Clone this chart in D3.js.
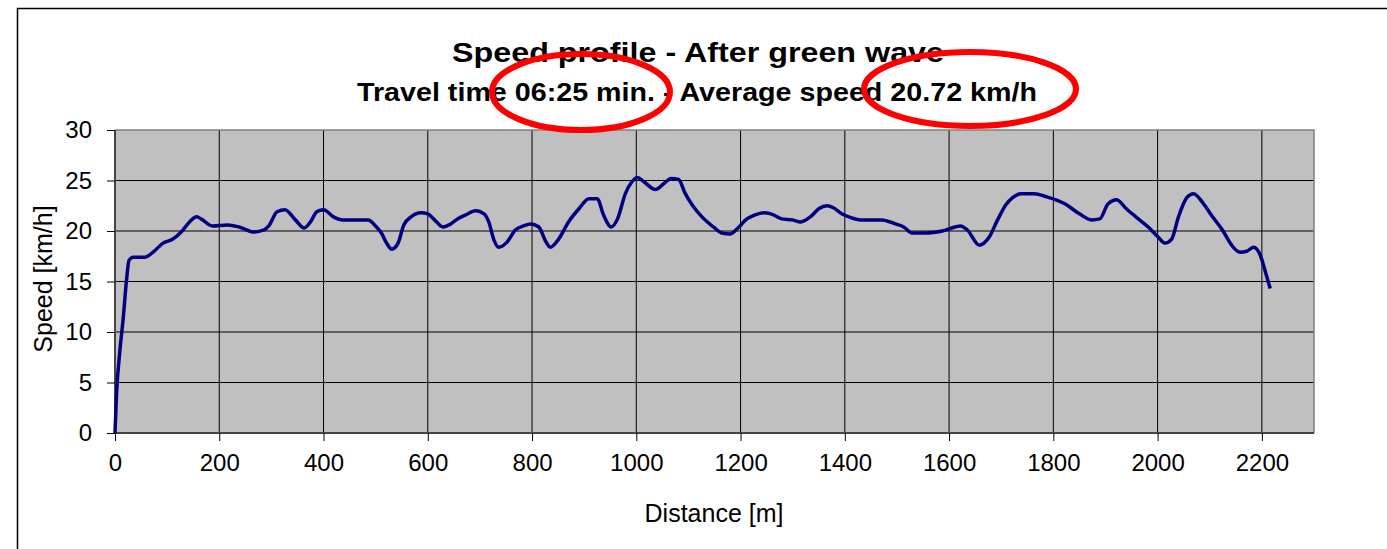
<!DOCTYPE html>
<html><head><meta charset="utf-8">
<script src="https://cdn.jsdelivr.net/npm/d3@7"></script>
<style>body{margin:0;background:#fff;}svg{display:block;font-family:"Liberation Sans",Arial,sans-serif;}</style>
</head><body><svg id="c" width="1387" height="549"></svg>
<script>
const title = "Speed profile - After green wave";
const subtitle = "Travel time 06:25 min. - Average speed 20.72 km/h";
const xLabel = "Distance [m]";
const yLabel = "Speed [km/h]";
const xTicks = [0,200,400,600,800,1000,1200,1400,1600,1800,2000,2200];
const yTicks = [0,5,10,15,20,25,30];
const distance = [0,3,9.5,16,22,27,35,57,73,92,111,127,143,157,165,187,216,238,267,286,295,311,326,346,363,375,387,400,419,438,486,498,511,521,531,543,554,568,587,600,613,629,641,657,673,692,708,717,727,736,752,768,784,797,813,826,835,851,870,890,909,925,937,952,964,979,992,1002,1014,1037,1053,1067,1081,1094,1107,1126,1148,1164,1180,1193,1212,1228,1247,1263,1279,1299,1315,1334,1350,1366,1378,1394,1413,1430,1471,1497,1513,1529,1555,1587,1622,1635,1658,1677,1693,1709,1722,1738,1764,1786,1822,1850,1873,1889,1905,1921,1940,1963,1982,2001,2014,2027,2040,2056,2069,2088,2104,2123,2145,2158,2171,2184,2197,2206,2216];
const speed = [0,3.9,8.2,11.5,15.1,17.1,17.4,17.4,17.9,18.8,19.2,19.9,20.9,21.4,21.2,20.5,20.6,20.4,19.9,20.1,20.5,21.9,22.1,21.1,20.3,20.9,21.9,22.1,21.4,21.1,21.1,20.6,19.8,18.8,18.2,18.8,20.6,21.4,21.8,21.7,21.1,20.4,20.6,21.2,21.6,22.0,21.7,20.9,19.1,18.4,18.9,20.1,20.5,20.7,20.4,19.0,18.4,19.2,20.9,22.2,23.2,23.2,21.6,20.4,21.2,23.7,24.9,25.3,24.9,24.1,24.7,25.2,25.1,23.7,22.6,21.4,20.4,19.8,19.7,20.2,21.2,21.6,21.8,21.6,21.2,21.1,20.9,21.4,22.2,22.5,22.3,21.7,21.3,21.1,21.1,20.7,20.4,19.8,19.8,20.0,20.5,20.1,18.6,19.4,21.1,22.6,23.3,23.7,23.7,23.4,22.7,21.7,21.1,21.2,22.7,23.1,22.2,21.2,20.4,19.4,18.8,19.2,21.4,23.3,23.7,22.7,21.5,20.2,18.4,17.9,18.0,18.4,17.6,16.1,14.3];

const svg = d3.select("#c");
const L = 115, R = 1314, T = 130, B = 433;
const x = d3.scaleLinear().domain([0,2300]).range([L,R]);
const y = d3.scaleLinear().domain([0,30]).range([B,T]);

// outer frame (extends beyond the picture on right/bottom)
svg.append("rect").attr("x",17.5).attr("y",8.5).attr("width",1400).attr("height",600)
  .attr("fill","none").attr("stroke","#000").attr("stroke-width",1.5);

// plot background
svg.append("rect").attr("x",L).attr("y",T).attr("width",R-L).attr("height",B-T).attr("fill","#C0C0C0");

// grid
svg.append("g").selectAll("line").data(xTicks.filter(d=>d>0)).join("line")
  .attr("x1",d=>x(d)).attr("x2",d=>x(d)).attr("y1",T).attr("y2",B)
  .attr("stroke","#000").attr("stroke-width",1);
svg.append("g").selectAll("line").data(yTicks.filter(d=>d>0&&d<30)).join("line")
  .attr("x1",L).attr("x2",R).attr("y1",d=>y(d)).attr("y2",d=>y(d))
  .attr("stroke","#000").attr("stroke-width",1);
// plot border top/right
svg.append("path").attr("d",`M${L},${T}H${R}V${B}`).attr("fill","none").attr("stroke","#808080").attr("stroke-width",1.5);

// axes
const xAxis = d3.axisBottom(x).tickValues(xTicks).tickSize(8).tickPadding(13).tickFormat(d3.format("d"));
const gx = svg.append("g").attr("transform",`translate(0,${B})`).call(xAxis);
gx.select(".domain").attr("d",`M${L},0H${R}`).attr("stroke","#444").attr("stroke-width",2);
gx.selectAll(".tick line").attr("stroke","#000");
gx.selectAll("text").attr("font-size",24).attr("fill","#000").attr("font-family","Liberation Sans, Arial");

const yAxis = d3.axisLeft(y).tickValues(yTicks).tickSize(8).tickPadding(15);
const gy = svg.append("g").attr("transform",`translate(${L},0)`).call(yAxis);
gy.select(".domain").attr("d",`M0,${T}V${B}`).attr("stroke","#444").attr("stroke-width",2);
gy.selectAll(".tick line").attr("stroke","#000");
gy.selectAll("text").attr("font-size",24).attr("fill","#000").attr("font-family","Liberation Sans, Arial");

// line
const pts = distance.map((d,i)=>[d,speed[i]]);
svg.append("path").datum(pts)
  .attr("d", d3.line().x(d=>x(d[0])).y(d=>y(d[1])).curve(d3.curveMonotoneX))
  .attr("fill","none").attr("stroke","#000080").attr("stroke-width",3.5).attr("stroke-linejoin","round");

// titles
svg.append("text").attr("x",698).attr("y",62).attr("text-anchor","middle")
  .attr("font-size",28).attr("font-weight","bold")
  .attr("textLength",492).attr("lengthAdjust","spacingAndGlyphs").text(title);
svg.append("text").attr("x",697).attr("y",101).attr("text-anchor","middle")
  .attr("font-size",26).attr("font-weight","bold")
  .attr("textLength",680).attr("lengthAdjust","spacingAndGlyphs").text(subtitle);
svg.append("text").attr("x",714).attr("y",522).attr("text-anchor","middle")
  .attr("font-size",25).text(xLabel);
svg.append("text").attr("transform","translate(52,279) rotate(-90)").attr("text-anchor","middle")
  .attr("font-size",25).text(yLabel);

// red annotation ellipses
svg.append("ellipse").attr("cx",581).attr("cy",92).attr("rx",89).attr("ry",38)
  .attr("fill","none").attr("stroke","#FF0000").attr("stroke-width",6);
svg.append("ellipse").attr("cx",970).attr("cy",89).attr("rx",106).attr("ry",37)
  .attr("fill","none").attr("stroke","#FF0000").attr("stroke-width",6);
</script></body></html>
